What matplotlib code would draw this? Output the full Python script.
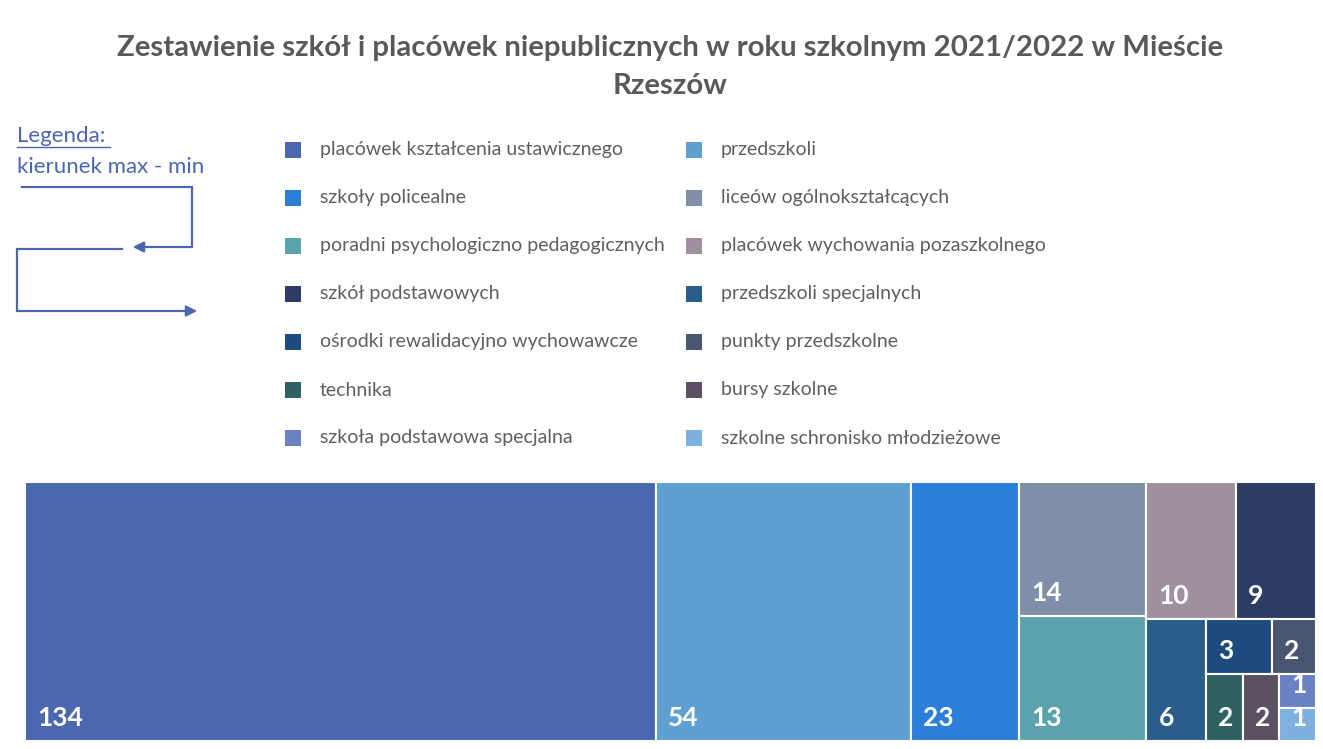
import matplotlib
matplotlib.use("Agg")
import matplotlib.pyplot as plt
from matplotlib.patches import Rectangle, FancyArrowPatch

plt.rcParams['font.family'] = ['Lato', 'DejaVu Sans']

# School types (ordered max -> min) and their counts
categories = [
    "placówek kształcenia ustawicznego",
    "przedszkoli",
    "szkoły policealne",
    "liceów ogólnokształcących",
    "poradni psychologiczno pedagogicznych",
    "placówek wychowania pozaszkolnego",
    "szkół podstawowych",
    "przedszkoli specjalnych",
    "ośrodki rewalidacyjno wychowawcze",
    "punkty przedszkolne",
    "technika",
    "bursy szkolne",
    "szkoła podstawowa specjalna",
    "szkolne schronisko młodzieżowe",
]
counts = [134, 54, 23, 14, 13, 10, 9, 6, 3, 2, 2, 2, 1, 1]
colors = [
    "#4A67AF", "#5F9FD2", "#2B7FD8", "#7F8FA9", "#5BA3AC", "#9E909F",
    "#2C3C65", "#2B5D8C", "#1E4B7D", "#4A566F", "#2F6163", "#5B4F62",
    "#6A82C4", "#7EB0E0",
]
# number of tiles placed in each strip of the treemap
strip_sizes = [1, 1, 1, 2, 2, 1, 2, 1, 1, 2]

title = "Zestawienie szkół i placówek niepublicznych w roku szkolnym 2021/2022 w Mieście\nRzeszów"


def treemap_layout(values, strips, x, y, w, h):
    """Strip-based treemap: each strip runs along the shorter side of the
    remaining area; the final strip fills what is left."""
    rects = []
    i = 0
    remaining = float(sum(values))
    for k, n in enumerate(strips):
        vals = values[i:i + n]
        s = float(sum(vals))
        last = k == len(strips) - 1
        if last:
            if h >= w:
                yy = y
                for v in vals:
                    hh = h * v / s
                    rects.append((x, yy, w, hh))
                    yy += hh
            else:
                xx = x
                for v in vals:
                    ww = w * v / s
                    rects.append((xx, y, ww, h))
                    xx += ww
        elif w >= h:
            sw = w * s / remaining
            yy = y
            for v in vals:
                hh = h * v / s
                rects.append((x, yy, sw, hh))
                yy += hh
            x += sw
            w -= sw
        else:
            sh = h * s / remaining
            xx = x
            for v in vals:
                ww = w * v / s
                rects.append((xx, y, ww, sh))
                xx += ww
            y += sh
            h -= sh
        remaining -= s
        i += n
    return rects


W, H = 1323, 749
fig = plt.figure(figsize=(W / 100, H / 100), dpi=100)
ax = fig.add_axes([0, 0, 1, 1])
ax.set_xlim(0, W)
ax.set_ylim(H, 0)
ax.axis("off")

# Title
ax.text(670, 67, title, ha="center", va="center", fontsize=21.2,
        fontweight="bold", color="#595959", linespacing=1.6)

# Reading-direction hint
hint_color = "#4A67AF"
ax.text(17, 136, "Legenda:", ha="left", va="center", fontsize=16,
        color=hint_color)
ax.plot([17, 110], [147, 147], color=hint_color, lw=1)
ax.text(17, 167, "kierunek max - min", ha="left", va="center",
        fontsize=16, color=hint_color)
ax.plot([22, 192, 192, 140], [187, 187, 247, 247], color=hint_color, lw=1.6,
        solid_joinstyle="miter")
ax.add_patch(FancyArrowPatch((142, 247), (130, 247), arrowstyle="-|>",
                             mutation_scale=16, color=hint_color, lw=1.6))
ax.plot([122, 17, 17, 188], [249, 249, 311, 311], color=hint_color, lw=1.6,
        solid_joinstyle="miter")
ax.add_patch(FancyArrowPatch((186, 311), (200, 311), arrowstyle="-|>",
                             mutation_scale=16, color=hint_color, lw=1.6))

# Legend: two columns, filled row by row
for idx, (name, col) in enumerate(zip(categories, colors)):
    row, c = divmod(idx, 2)
    sx = 285 if c == 0 else 686
    sy = 150 + row * 48
    ax.add_patch(Rectangle((sx, sy - 8), 16, 16, facecolor=col,
                           edgecolor="none"))
    ax.text(sx + 35, sy, name, ha="left", va="center", fontsize=14,
            color="#5F5F5F")

# Treemap
rects = treemap_layout(counts, strip_sizes, 25, 482, 1291, 259)
for (rx, ry, rw, rh), v, col in zip(rects, counts, colors):
    ax.add_patch(Rectangle((rx, ry), rw, rh, facecolor=col,
                           edgecolor="white", lw=1.5))
    ax.text(rx + 12, ry + rh - 15, str(v), ha="left", va="baseline",
            fontsize=19, fontweight="bold", color="white")

fig.savefig("out.png", dpi=100)
